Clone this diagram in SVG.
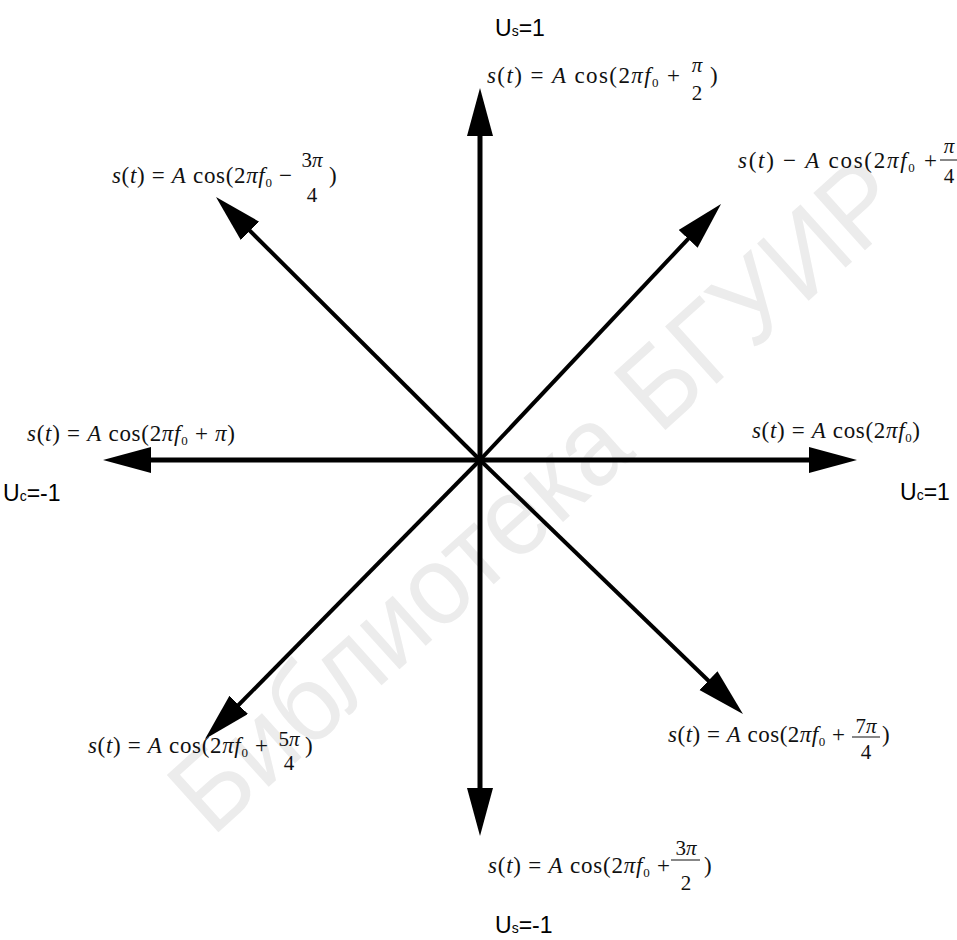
<svg xmlns="http://www.w3.org/2000/svg" width="957" height="940" viewBox="0 0 957 940">
<style>
.f{font-family:"Liberation Serif","Times New Roman",serif;font-size:23px;fill:#111}
.i{font-style:italic}
.s{font-size:13px}
.n{font-family:"Liberation Serif","Times New Roman",serif;font-size:21px;fill:#111;text-anchor:middle}
.lab{font-family:"Liberation Sans",Arial,sans-serif;font-size:23px;fill:#000}
.ax{stroke:#000;stroke-width:5;fill:none}
.dg{stroke:#000;stroke-width:4;fill:none}
.fl{stroke:#111;stroke-width:1}
.wm{font-family:"Liberation Sans",Arial,sans-serif;font-size:112px;fill:#ececec}
</style>
<defs>
<marker id="ah" markerUnits="userSpaceOnUse" markerWidth="50" markerHeight="28" refX="8" refY="13" orient="auto" viewBox="0 0 50 28">
<path d="M0,0 L48,13 L0,26 Z" fill="#000"/>
</marker>
</defs>
<rect width="957" height="940" fill="#fff"/>
<text class="wm" x="212" y="838" textLength="940" lengthAdjust="spacingAndGlyphs" transform="rotate(-42 212 838)">Библиотека БГУИР</text>
<g id="connectors">
<line class="ax" x1="480" y1="460" x2="480" y2="128" marker-end="url(#ah)"/>
<line class="ax" x1="480" y1="460" x2="480" y2="796" marker-end="url(#ah)"/>
<line class="ax" x1="480" y1="460" x2="143" y2="460" marker-end="url(#ah)"/>
<line class="ax" x1="480" y1="460" x2="817" y2="460" marker-end="url(#ah)"/>
<line class="dg" x1="480" y1="460" x2="244.3" y2="225.2" marker-end="url(#ah)"/>
<line class="dg" x1="480" y1="460" x2="693.6" y2="233.1" marker-end="url(#ah)"/>
<line class="dg" x1="480" y1="460" x2="233.1" y2="710.5" marker-end="url(#ah)"/>
<line class="dg" x1="480" y1="460" x2="714.2" y2="686.2" marker-end="url(#ah)"/>
</g>
<g id="label-us1"><text class="lab" x="495" y="36">U<tspan font-size="14">s</tspan>=1</text></g>
<g id="label-usm1"><text class="lab" x="495" y="933">U<tspan font-size="14">s</tspan>=-1</text></g>
<g id="label-ucm1"><text class="lab" x="3" y="501">U<tspan font-size="14">c</tspan>=-1</text></g>
<g id="label-uc1"><text class="lab" x="900" y="500">U<tspan font-size="14">c</tspan>=1</text></g>
<g id="f-top">
<text class="f" x="487" y="83" textLength="193" lengthAdjust="spacing"><tspan class="i">s</tspan>(<tspan class="i">t</tspan>) = <tspan class="i">A</tspan> cos(2<tspan class="i">π</tspan><tspan class="i">f</tspan><tspan class="s" dy="4">0</tspan><tspan dy="-4"> +</tspan></text>
<text class="n" x="697" y="72"><tspan class="i">π</tspan></text>
<text class="n" x="697" y="100">2</text>
<text class="f" x="710" y="83">)</text>
</g>
<g id="f-nw">
<text class="f" x="112" y="183" textLength="180" lengthAdjust="spacing"><tspan class="i">s</tspan>(<tspan class="i">t</tspan>) = <tspan class="i">A</tspan> cos(2<tspan class="i">π</tspan><tspan class="i">f</tspan><tspan class="s" dy="4">0</tspan><tspan dy="-4"> −</tspan></text>
<text class="n" x="312" y="167">3<tspan class="i">π</tspan></text>
<text class="n" x="312" y="202">4</text>
<text class="f" x="329" y="183">)</text>
</g>
<g id="f-ne">
<text class="f" x="738" y="168" textLength="199" lengthAdjust="spacing"><tspan class="i">s</tspan>(<tspan class="i">t</tspan>) − <tspan class="i">A</tspan> cos(2<tspan class="i">π</tspan><tspan class="i">f</tspan><tspan class="s" dy="4">0</tspan><tspan dy="-4"> +</tspan></text>
<text class="n" x="949" y="153"><tspan class="i">π</tspan></text>
<line class="fl" x1="940" y1="160" x2="957" y2="160"/>
<text class="n" x="949" y="183">4</text>
</g>
<g id="f-w">
<text class="f" x="27" y="441" textLength="208" lengthAdjust="spacing"><tspan class="i">s</tspan>(<tspan class="i">t</tspan>) = <tspan class="i">A</tspan> cos(2<tspan class="i">π</tspan><tspan class="i">f</tspan><tspan class="s" dy="4">0</tspan><tspan dy="-4"> + </tspan><tspan class="i">π</tspan>)</text>
</g>
<g id="f-e">
<text class="f" x="752" y="438" textLength="168" lengthAdjust="spacing"><tspan class="i">s</tspan>(<tspan class="i">t</tspan>) = <tspan class="i">A</tspan> cos(2<tspan class="i">π</tspan><tspan class="i">f</tspan><tspan class="s" dy="4">0</tspan><tspan dy="-4">)</tspan></text>
</g>
<g id="f-sw">
<text class="f" x="88" y="753" textLength="180" lengthAdjust="spacing"><tspan class="i">s</tspan>(<tspan class="i">t</tspan>) = <tspan class="i">A</tspan> cos(2<tspan class="i">π</tspan><tspan class="i">f</tspan><tspan class="s" dy="4">0</tspan><tspan dy="-4"> +</tspan></text>
<text class="n" x="289" y="746">5<tspan class="i">π</tspan></text>
<text class="n" x="289" y="770">4</text>
<text class="f" x="305" y="753">)</text>
</g>
<g id="f-se">
<text class="f" x="668" y="742" textLength="177" lengthAdjust="spacing"><tspan class="i">s</tspan>(<tspan class="i">t</tspan>) = <tspan class="i">A</tspan> cos(2<tspan class="i">π</tspan><tspan class="i">f</tspan><tspan class="s" dy="4">0</tspan><tspan dy="-4"> +</tspan></text>
<text class="n" x="866" y="733">7<tspan class="i">π</tspan></text>
<line class="fl" x1="852" y1="737" x2="880" y2="737"/>
<text class="n" x="866" y="759">4</text>
<text class="f" x="882" y="742">)</text>
</g>
<g id="f-s">
<text class="f" x="488" y="873" textLength="182" lengthAdjust="spacing"><tspan class="i">s</tspan>(<tspan class="i">t</tspan>) = <tspan class="i">A</tspan> cos(2<tspan class="i">π</tspan><tspan class="i">f</tspan><tspan class="s" dy="4">0</tspan><tspan dy="-4"> +</tspan></text>
<text class="n" x="686" y="855">3<tspan class="i">π</tspan></text>
<line class="fl" x1="671" y1="860" x2="700" y2="860"/>
<text class="n" x="686" y="890">2</text>
<text class="f" x="704" y="873">)</text>
</g>
</svg>
